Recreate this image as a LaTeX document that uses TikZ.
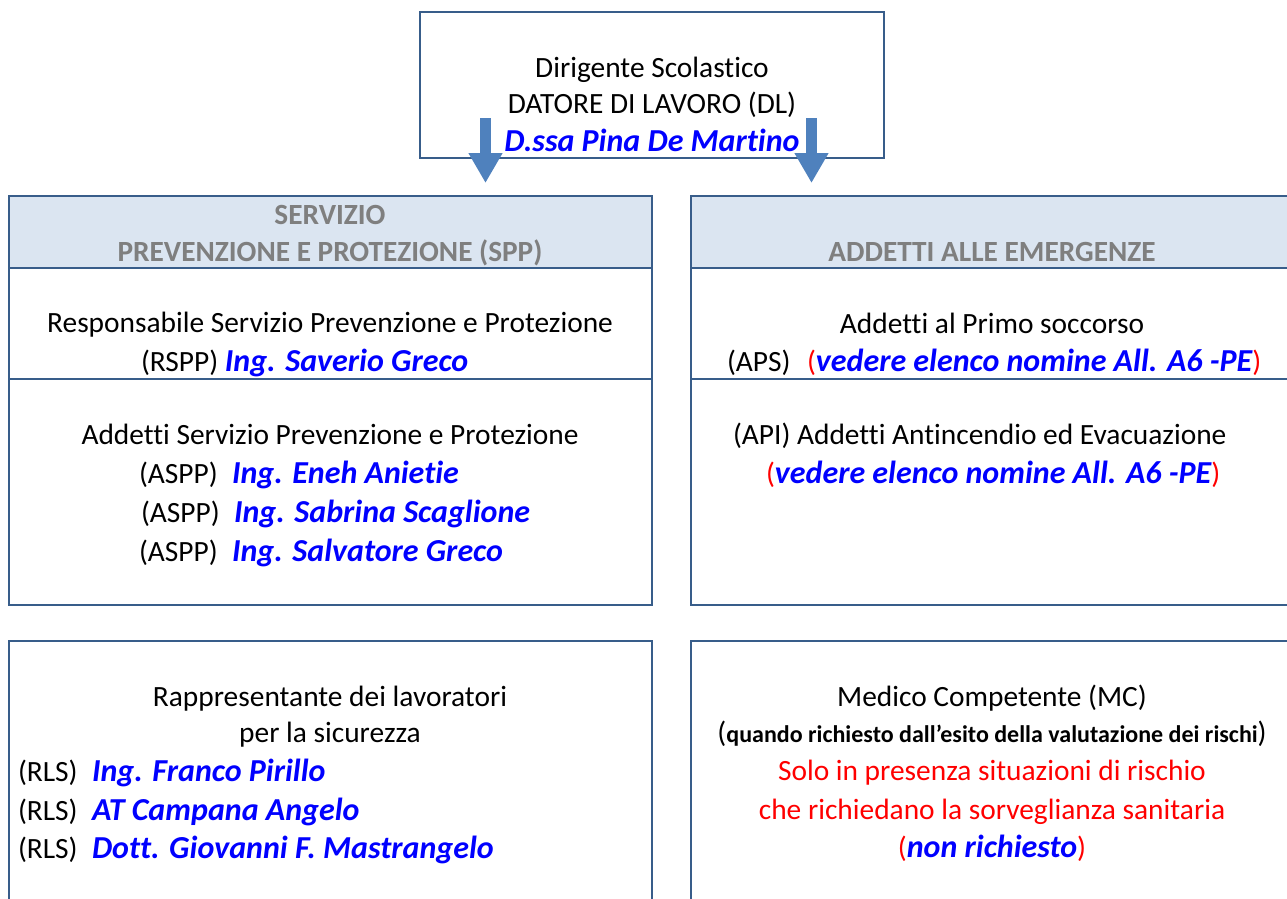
\documentclass[tikz,border=0pt]{standalone}
\usepackage{fontspec}
\setmainfont{Carlito}[Ligatures={NoCommon}]
\usetikzlibrary{arrows.meta}
\definecolor{bord}{HTML}{385D8A}
\definecolor{hdrfill}{HTML}{DBE5F1}
\definecolor{hdrtext}{HTML}{7F7F7F}
\definecolor{arrowblue}{HTML}{4F81BD}
\definecolor{nameblue}{HTML}{0000FF}
\definecolor{warnred}{HTML}{FF0000}
\newcommand\bluename[1]{\textcolor{nameblue}{\fontsize{32}{38}\selectfont\bfseries\itshape #1}}
\newcommand\redpar[1]{\textcolor{warnred}{#1}}
\begin{document}
\begin{tikzpicture}[x=1pt,y=-1pt,
  txt/.style={font=\fontsize{29.4}{35}\selectfont, inner sep=0pt, outer sep=0pt, anchor=base},
  txtl/.style={txt, anchor=base west},
  hdr/.style={txt, font=\fontsize{29.3}{35}\selectfont\bfseries, text=hdrtext},
  panel/.style={draw=bord, line width=1.3pt, anchor=north west, inner sep=0pt, outer sep=0pt},
  blockarrow/.style={draw=arrowblue, line width=11pt, -{Triangle[width=32pt,length=30pt]}}
]
\useasboundingbox (0,0) rectangle (1287,898);
\clip (0,0) rectangle (1287,898);

% top box
\node[panel, minimum width=464pt, minimum height=146pt] (dl) at (420,12) {};
\node[txt] (dl1) at (652,77) {Dirigente Scolastico};
\node[txt] (dl2) at (652,113) {DATORE DI LAVORO (DL)};
\node[txt] (dl3) at (652,151) {\bluename{D.ssa Pina De Martino}};

% SPP panel
\node[panel, fill=hdrfill, minimum width=643pt, minimum height=72pt] (spph) at (9,196) {};
\node[panel, minimum width=643pt, minimum height=409pt] (spp) at (9,196) {};
\draw[draw=bord, line width=1.3pt] (spph.south west) -- (spph.south east);
\coordinate (sppdl) at (9,379);
\coordinate (sppdr) at (652,379);
\draw[draw=bord, line width=1.3pt] (sppdl) -- (sppdr);
\node[hdr] (spp1) at (330,224) {SERVIZIO};
\node[hdr] (spp2) at (330,261) {PREVENZIONE E PROTEZIONE (SPP)};
\node[txt] (rspp1) at (330,332) {Responsabile Servizio Prevenzione e Protezione};
\node[txtl] (rspp2) at (141,371) {(RSPP) \bluename{Ing. Saverio Greco}};
\node[txt] (aspp0) at (330,444) {Addetti Servizio Prevenzione e Protezione};
\node[txtl] (aspp1) at (139,483) {\makebox[93pt][l]{(ASPP)}\bluename{Ing. Eneh Anietie}};
\node[txtl] (aspp2) at (141,522) {\makebox[93pt][l]{(ASPP)}\bluename{Ing. Sabrina Scaglione}};
\node[txtl] (aspp3) at (139,561) {\makebox[93pt][l]{(ASPP)}\bluename{Ing. Salvatore Greco}};

% Emergency panel
\node[panel, fill=hdrfill, minimum width=620pt, minimum height=72pt] (emh) at (691,196) {};
\node[panel, minimum width=620pt, minimum height=409pt] (em) at (691,196) {};
\draw[draw=bord, line width=1.3pt] (emh.south west) -- (emh.south east);
\coordinate (emdl) at (691,379);
\coordinate (emdr) at (1311,379);
\draw[draw=bord, line width=1.3pt] (emdl) -- (emdr);
\node[hdr] (em1) at (992,261) {ADDETTI ALLE EMERGENZE};
\node[txt] (aps1) at (992,333) {Addetti al Primo soccorso};
\node[txtl] (aps2) at (727,371) {\makebox[80pt][l]{(APS)}\redpar{(}\bluename{vedere elenco nomine All. A6 -PE}\redpar{)}};
\node[txtl] (api1) at (733,444) {(API) Addetti Antincendio ed Evacuazione};
\node[txtl] (api2) at (766,483) {\redpar{(}\bluename{vedere elenco nomine All. A6 -PE}\redpar{)}};

% RLS box
\node[panel, minimum width=643pt, minimum height=280pt] (rls) at (9,641) {};
\node[txt] (rls0) at (330,706) {Rappresentante dei lavoratori};
\node[txt] (rls00) at (330,742) {per la sicurezza};
\node[txtl] (rls1) at (18,781) {\makebox[74pt][l]{(RLS)}\bluename{Ing. Franco Pirillo}};
\node[txtl] (rls2) at (18,820) {\makebox[74pt][l]{(RLS)}\bluename{AT Campana Angelo}};
\node[txtl] (rls3) at (18,858) {\makebox[74pt][l]{(RLS)}\bluename{Dott. Giovanni F. Mastrangelo}};

% MC box
\node[panel, minimum width=620pt, minimum height=280pt] (mc) at (691,641) {};
\node[txt] (mc1) at (992,706) {Medico Competente (MC)};
\node[txt] (mc2) at (992,742) {(\textbf{\fontsize{24}{28}\selectfont quando richiesto dall’esito della valutazione dei rischi})};
\node[txt, text=warnred] (mc3) at (992,780) {Solo in presenza situazioni di rischio};
\node[txt, text=warnred] (mc4) at (992,819) {che richiedano la sorveglianza sanitaria};
\node[txt] (mc5) at (992,857) {\redpar{(}\bluename{non richiesto}\redpar{)}};

% arrows
\coordinate (a1s) at (485.5,118);
\coordinate (a1e) at (485.5,183);
\coordinate (a2s) at (811.5,118);
\coordinate (a2e) at (811.5,183);
\draw[blockarrow] (a1s) -- (a1e);
\draw[blockarrow] (a2s) -- (a2e);
\end{tikzpicture}
\end{document}
